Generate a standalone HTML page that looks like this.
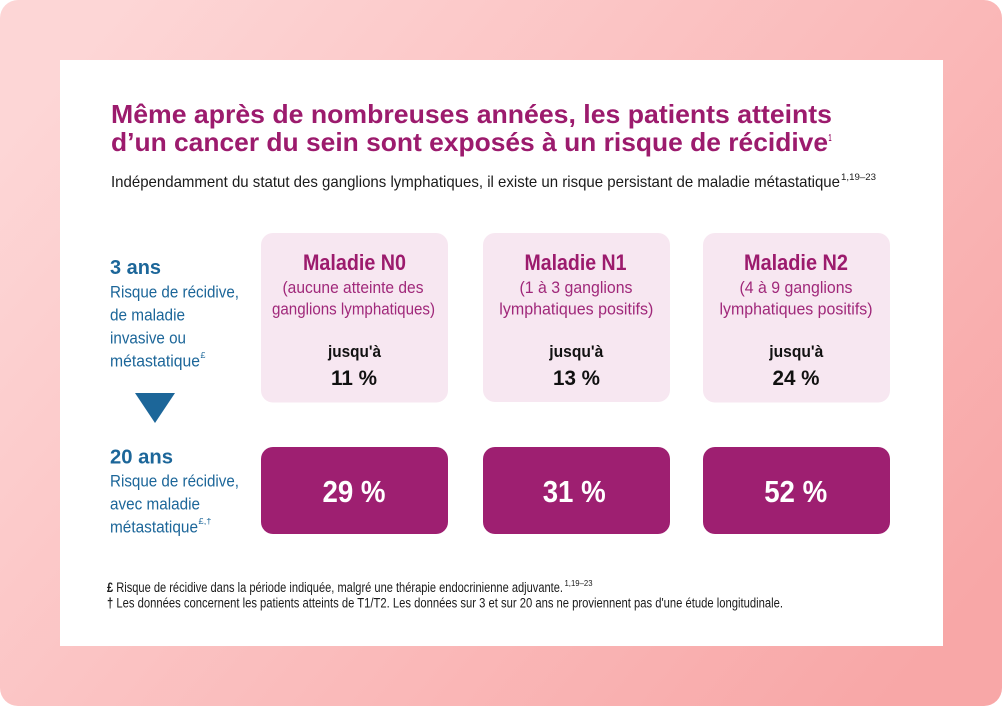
<!DOCTYPE html>
<html>
<head>
<meta charset="utf-8">
<style>
html,body{margin:0;padding:0;background:#fff;}
svg{display:block;}
text{font-family:"Liberation Sans Narrow","Liberation Sans",Arial,sans-serif;}
</style>
</head>
<body>
<svg width="1003" height="706" viewBox="0 0 1003 706" xmlns="http://www.w3.org/2000/svg">
  <defs>
    <linearGradient id="bg" x1="0" y1="0.2" x2="1" y2="0.8">
      <stop offset="0" stop-color="#fdd6d6"/>
      <stop offset="1" stop-color="#f8a7a7"/>
    </linearGradient>
  </defs>
  <rect x="0" y="0" width="1003" height="706" fill="#ffffff"/>
  <rect x="0" y="0" width="1002" height="706" rx="18" ry="18" fill="url(#bg)"/>
  <rect x="60" y="60" width="883" height="586" fill="#ffffff"/>

  <!-- Title -->
  <text x="111" y="123" font-size="26" font-weight="bold" fill="#9c1b6d" textLength="721" lengthAdjust="spacingAndGlyphs">Même après de nombreuses années, les patients atteints</text>
  <text x="111" y="151" font-size="26" font-weight="bold" fill="#9c1b6d" textLength="717" lengthAdjust="spacingAndGlyphs">d’un cancer du sein sont exposés à un risque de récidive</text>
  <text x="828.5" y="141" font-size="10" font-weight="bold" fill="#9c1b6d" textLength="3" lengthAdjust="spacingAndGlyphs">1</text>

  <!-- Subtitle -->
  <text x="111" y="187" font-size="16" fill="#1a1a1a" textLength="729" lengthAdjust="spacingAndGlyphs">Indépendamment du statut des ganglions lymphatiques, il existe un risque persistant de maladie métastatique</text>
  <text x="841" y="180" font-size="9.5" fill="#1a1a1a" textLength="35" lengthAdjust="spacingAndGlyphs">1,19–23</text>

  <!-- Left labels: 3 ans -->
  <text x="110" y="274" font-size="20.5" font-weight="bold" fill="#1c6699" textLength="51" lengthAdjust="spacingAndGlyphs">3 ans</text>
  <text x="110" y="297.5" font-size="17" fill="#1c6699" textLength="129" lengthAdjust="spacingAndGlyphs">Risque de récidive,</text>
  <text x="110" y="320.5" font-size="17" fill="#1c6699" textLength="75" lengthAdjust="spacingAndGlyphs">de maladie</text>
  <text x="110" y="343.5" font-size="17" fill="#1c6699" textLength="76" lengthAdjust="spacingAndGlyphs">invasive ou</text>
  <text x="110" y="366.5" font-size="17" fill="#1c6699" textLength="90" lengthAdjust="spacingAndGlyphs">métastatique</text>
  <text x="200.5" y="358" font-size="8.5" fill="#1c6699" textLength="5" lengthAdjust="spacingAndGlyphs">£</text>

  <!-- Arrow -->
  <polygon points="135,393 175,393 155,423" fill="#1c6699"/>

  <!-- Left labels: 20 ans -->
  <text x="110" y="463.5" font-size="20.5" font-weight="bold" fill="#1c6699" textLength="63" lengthAdjust="spacingAndGlyphs">20 ans</text>
  <text x="110" y="486.5" font-size="17" fill="#1c6699" textLength="129" lengthAdjust="spacingAndGlyphs">Risque de récidive,</text>
  <text x="110" y="509.5" font-size="17" fill="#1c6699" textLength="90" lengthAdjust="spacingAndGlyphs">avec maladie</text>
  <text x="110" y="532.5" font-size="17" fill="#1c6699" textLength="88" lengthAdjust="spacingAndGlyphs">métastatique</text>
  <text x="198.5" y="524" font-size="8.5" fill="#1c6699" textLength="13" lengthAdjust="spacingAndGlyphs">£,†</text>

  <!-- Light boxes -->
  <rect x="261" y="233" width="187" height="169.5" rx="12" ry="12" fill="#f7e7f1"/>
  <rect x="483" y="233" width="187" height="169" rx="12" ry="12" fill="#f7e7f1"/>
  <rect x="703" y="233" width="187" height="169.5" rx="12" ry="12" fill="#f7e7f1"/>

  <!-- N0 -->
  <text x="354.5" y="270" font-size="22.5" font-weight="bold" fill="#9c1b6d" text-anchor="middle" textLength="103" lengthAdjust="spacingAndGlyphs">Maladie N0</text>
  <text x="353" y="293" font-size="17" fill="#a0287a" text-anchor="middle" textLength="141" lengthAdjust="spacingAndGlyphs">(aucune atteinte des</text>
  <text x="353.5" y="314.5" font-size="17" fill="#a0287a" text-anchor="middle" textLength="163" lengthAdjust="spacingAndGlyphs">ganglions lymphatiques)</text>
  <text x="354.5" y="357" font-size="16.5" font-weight="bold" fill="#111" text-anchor="middle" textLength="53" lengthAdjust="spacingAndGlyphs">jusqu'à</text>
  <text x="354" y="385" font-size="21.5" font-weight="bold" fill="#111" text-anchor="middle" textLength="46" lengthAdjust="spacingAndGlyphs">11 %</text>

  <!-- N1 -->
  <text x="575.5" y="270" font-size="22.5" font-weight="bold" fill="#9c1b6d" text-anchor="middle" textLength="102" lengthAdjust="spacingAndGlyphs">Maladie N1</text>
  <text x="576" y="293" font-size="17" fill="#a0287a" text-anchor="middle" textLength="113" lengthAdjust="spacingAndGlyphs">(1 à 3 ganglions</text>
  <text x="576.3" y="314.5" font-size="17" fill="#a0287a" text-anchor="middle" textLength="154" lengthAdjust="spacingAndGlyphs">lymphatiques positifs)</text>
  <text x="576.3" y="357" font-size="16.5" font-weight="bold" fill="#111" text-anchor="middle" textLength="54" lengthAdjust="spacingAndGlyphs">jusqu'à</text>
  <text x="576.5" y="385" font-size="21.5" font-weight="bold" fill="#111" text-anchor="middle" textLength="47" lengthAdjust="spacingAndGlyphs">13 %</text>

  <!-- N2 -->
  <text x="796" y="270" font-size="22.5" font-weight="bold" fill="#9c1b6d" text-anchor="middle" textLength="104" lengthAdjust="spacingAndGlyphs">Maladie N2</text>
  <text x="796" y="293" font-size="17" fill="#a0287a" text-anchor="middle" textLength="113" lengthAdjust="spacingAndGlyphs">(4 à 9 ganglions</text>
  <text x="796" y="314.5" font-size="17" fill="#a0287a" text-anchor="middle" textLength="153" lengthAdjust="spacingAndGlyphs">lymphatiques positifs)</text>
  <text x="796.3" y="357" font-size="16.5" font-weight="bold" fill="#111" text-anchor="middle" textLength="54" lengthAdjust="spacingAndGlyphs">jusqu'à</text>
  <text x="796" y="385" font-size="21.5" font-weight="bold" fill="#111" text-anchor="middle" textLength="47" lengthAdjust="spacingAndGlyphs">24 %</text>

  <!-- Dark boxes -->
  <rect x="261" y="447" width="187" height="87" rx="12" ry="12" fill="#9e1f71"/>
  <rect x="483" y="447" width="187" height="87" rx="12" ry="12" fill="#9e1f71"/>
  <rect x="703" y="447" width="187" height="87" rx="12" ry="12" fill="#9e1f71"/>
  <text x="354" y="502" font-size="31" font-weight="bold" fill="#ffffff" text-anchor="middle" textLength="63" lengthAdjust="spacingAndGlyphs">29 %</text>
  <text x="574.2" y="502" font-size="31" font-weight="bold" fill="#ffffff" text-anchor="middle" textLength="63" lengthAdjust="spacingAndGlyphs">31 %</text>
  <text x="795.7" y="502" font-size="31" font-weight="bold" fill="#ffffff" text-anchor="middle" textLength="63" lengthAdjust="spacingAndGlyphs">52 %</text>

  <!-- Footnotes -->
  <text x="107" y="592" font-size="13.5" fill="#1a1a1a" textLength="456" lengthAdjust="spacingAndGlyphs"><tspan font-weight="bold">£</tspan> Risque de récidive dans la période indiquée, malgré une thérapie endocrinienne adjuvante.</text>
  <text x="564.5" y="586" font-size="8" fill="#1a1a1a" textLength="28" lengthAdjust="spacingAndGlyphs">1,19–23</text>
  <text x="107" y="607.5" font-size="13.5" fill="#1a1a1a" textLength="676" lengthAdjust="spacingAndGlyphs"><tspan font-weight="bold">†</tspan> Les données concernent les patients atteints de T1/T2. Les données sur 3 et sur 20 ans ne proviennent pas d'une étude longitudinale.</text>
</svg>
</body>
</html>
